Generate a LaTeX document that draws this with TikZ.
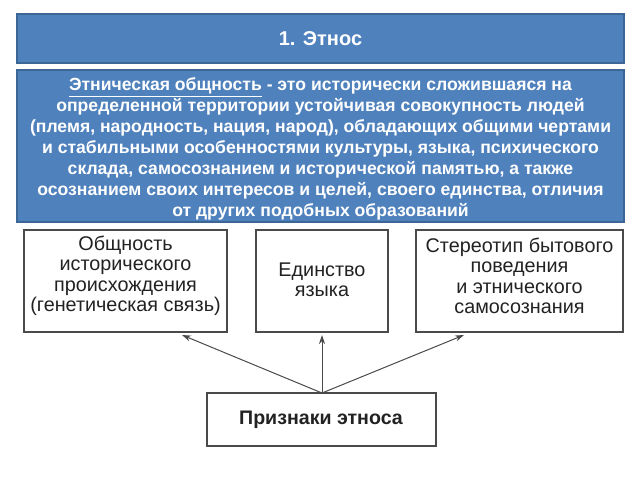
\documentclass[tikz,border=0pt]{standalone}
\usepackage{fontspec}
\setmainfont{Liberation Sans}
\usetikzlibrary{arrows.meta}
\definecolor{bluefill}{HTML}{4F81BD}
\definecolor{blueline}{HTML}{3B6696}
\definecolor{boxline}{HTML}{4A4A4A}
\definecolor{boxtext}{HTML}{222222}
\tikzset{
  bluebox/.style={draw=blueline, line width=1.5pt, fill=bluefill, text=white, font=\bfseries},
  whitebox/.style={draw=boxline, line width=1.3pt, fill=white, text=boxtext, align=center},
  conn/.style={draw=boxline, line width=1pt, -{Stealth[length=9pt,width=6pt]}}
}
\begin{document}
\begin{tikzpicture}[x=1pt,y=-1pt]
\useasboundingbox (0,0) rectangle (640,480);
\fill[white] (0,0) rectangle (640,480);
% title
\draw[bluebox] (17,14) rectangle (624,63);
\node[text=white, font=\fontsize{20}{24}\selectfont\bfseries] (title) at (320.5,39) {1. Этнос};
% definition
\draw[bluebox] (17,70) rectangle (624,222);
\node[text=white, align=center, font=\fontsize{17.6}{20.9}\selectfont\bfseries] (def) at (320.5,149) {\underline{Этническая общность} - это исторически сложившаяся на\\
определенной территории устойчивая совокупность людей\\
(племя, народность, нация, народ), обладающих общими чертами\\
и стабильными особенностями культуры, языка, психического\\
склада, самосознанием и исторической памятью, а также\\
осознанием своих интересов и целей, своего единства, отличия\\
от других подобных образований};
% three boxes
\draw[whitebox] (24,230) rectangle (227,332);
\node[text=boxtext, align=center, font=\fontsize{19.8}{20.5}\selectfont] (b1) at (125.5,276) {Общность\\исторического\\происхождения\\(генетическая связь)};
\draw[whitebox] (256,230) rectangle (388,332);
\node[text=boxtext, align=center, font=\fontsize{19.8}{20.5}\selectfont] (b2) at (322,280) {Единство\\языка};
\draw[whitebox] (416,230) rectangle (623,332);
\node[text=boxtext, align=center, font=\fontsize{19.8}{20.5}\selectfont] (b3) at (519.5,276) {Стереотип бытового\\поведения\\и этнического\\самосознания};
% bottom
\draw[whitebox] (207,393) rectangle (436,446);
\node[text=boxtext, font=\fontsize{19.6}{22}\selectfont\bfseries] (sign) at (321,420) {Признаки этноса};
\coordinate (src) at (322,393);
\coordinate (e1) at (182,335);
\coordinate (e2) at (322,335);
\coordinate (e3) at (464,335);
\draw[conn] (src) -- (e1);
\draw[conn] (src) -- (e2);
\draw[conn] (src) -- (e3);
\end{tikzpicture}
\end{document}
